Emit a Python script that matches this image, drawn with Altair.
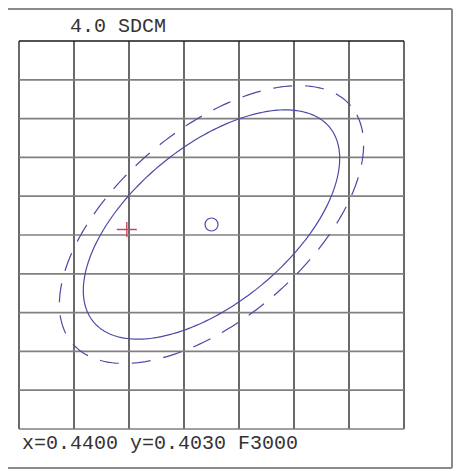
import altair as alt
import numpy as np
import pandas as pd

# ---- values ----
grid_cols = [0, 1, 2, 3, 4, 5, 6, 7]          # vertical grid lines
grid_rows = [0, 1, 2, 3, 4, 5, 6, 7, 8, 9, 10]  # horizontal grid lines
center = [3.5, 5.27]                           # target point (x=0.4400, y=0.4030)
cross_pt = [1.96, 5.14]                        # measured point (red cross)
# ellipse shapes: semi-axes in screen px, tilt in degrees
solid_ell = {"a": 153.0, "b": 78.5, "angle": 39.5}
dashed_ell = {"a": 183.0, "b": 94.5, "angle": 40.5}
title_txt = "4.0 SDCM"
footer_txt = "x=0.4400 y=0.4030 F3000"

PW, PH = 385, 388
XU, YU = PW / 7, PH / 10
MONO = "Liberation Mono"
BLUE = "#4a4aa6"


def ellipse_df(e, name):
    t = np.linspace(0, 2 * np.pi, 241)
    th = np.radians(e["angle"])
    dx = e["a"] * np.cos(t) * np.cos(th) - e["b"] * np.sin(t) * np.sin(th)
    dy = e["a"] * np.cos(t) * np.sin(th) + e["b"] * np.sin(t) * np.cos(th)
    return pd.DataFrame({"x": center[0] + dx / XU, "y": center[1] + dy / YU,
                         "i": np.arange(len(t)), "k": name})


xs = alt.Scale(domain=[0, 7], nice=False, zero=False)
ys = alt.Scale(domain=[0, 10], nice=False, zero=False)

vgrid = alt.Chart(pd.DataFrame({"x": grid_cols})).mark_rule(
    color="#1a1a1a", strokeWidth=1.3).encode(x=alt.X("x:Q", scale=xs, axis=None))
hgrid = alt.Chart(pd.DataFrame({"y": grid_rows[:-1]})).mark_rule(
    color="#808080", strokeWidth=1.7).encode(y=alt.Y("y:Q", scale=ys, axis=None))
htop = alt.Chart(pd.DataFrame({"y": grid_rows[-1:]})).mark_rule(
    color="#1a1a1a", strokeWidth=1.3).encode(y=alt.Y("y:Q", scale=ys, axis=None))

solid = alt.Chart(ellipse_df(solid_ell, "s")).mark_line(
    color=BLUE, strokeWidth=1.2).encode(
    x=alt.X("x:Q", scale=xs, axis=None), y=alt.Y("y:Q", scale=ys, axis=None),
    order="i:Q")
dashed = alt.Chart(ellipse_df(dashed_ell, "d")).mark_line(
    color=BLUE, strokeWidth=1.2, strokeDash=[19, 13]).encode(
    x=alt.X("x:Q", scale=xs, axis=None), y=alt.Y("y:Q", scale=ys, axis=None),
    order="i:Q")

circ = alt.Chart(pd.DataFrame({"x": [center[0]], "y": [center[1]]})).mark_point(
    shape="circle", size=169, filled=False, color=BLUE, strokeWidth=1.2, opacity=1).encode(
    x=alt.X("x:Q", scale=xs, axis=None), y=alt.Y("y:Q", scale=ys, axis=None))
cross = alt.Chart(pd.DataFrame({"x": [cross_pt[0]], "y": [cross_pt[1]]})).mark_point(
    shape="M-1,0L1,0M0,-0.75L0,0.75", size=400, filled=False, color="#c8485a",
    strokeWidth=1.4, opacity=1).encode(
    x=alt.X("x:Q", scale=xs, axis=None), y=alt.Y("y:Q", scale=ys, axis=None))

dummy = pd.DataFrame({"v": [0]})
title = alt.Chart(dummy).mark_text(
    text=title_txt, font=MONO, fontSize=20, color="#333333", align="left",
    baseline="alphabetic").encode(x=alt.value(51), y=alt.value(-9))
footer = alt.Chart(dummy).mark_text(
    text=footer_txt, font=MONO, fontSize=20, color="#333333", align="left",
    baseline="alphabetic").encode(x=alt.value(3), y=alt.value(408))

frame_col = "#8a8a8a"
ftop = alt.Chart(dummy).mark_rule(color=frame_col, strokeWidth=2).encode(
    x=alt.value(-12), x2=alt.value(433), y=alt.value(-32))
fright = alt.Chart(dummy).mark_rule(color=frame_col, strokeWidth=2).encode(
    x=alt.value(433), y=alt.value(-32), y2=alt.value(427))
fbottom = alt.Chart(dummy).mark_rule(color=frame_col, strokeWidth=2).encode(
    x=alt.value(-12), x2=alt.value(433), y=alt.value(427))

chart = alt.layer(vgrid, hgrid, htop, dashed, solid, circ, cross, title, footer,
                  ftop, fright, fbottom).properties(
    width=PW, height=PH,
    autosize=alt.AutoSizeParams(type="none"),
    padding={"left": 11, "top": 33, "right": 49, "bottom": 41},
    background="white",
).configure_view(stroke=None)

chart.save("out.html", embed_options={"renderer": "svg", "actions": False})
